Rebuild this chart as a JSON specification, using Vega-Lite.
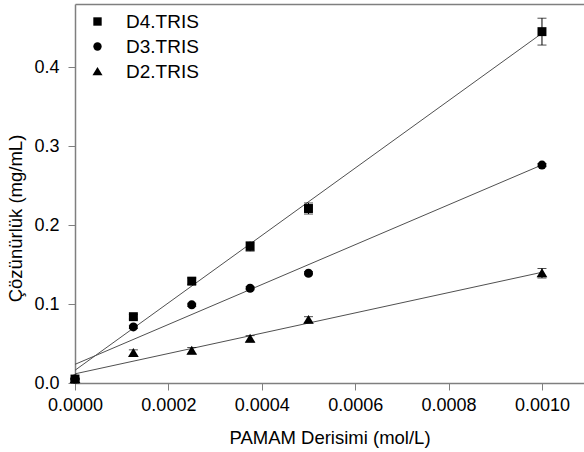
{
  "$schema": "https://vega.github.io/schema/vega-lite/v6.json",
  "autosize": "none",
  "padding": {"left": 75, "top": 4, "right": 0, "bottom": 69},
  "width": 509,
  "height": 379,
  "background": "white",
  "config": {
    "view": {"stroke": null},
    "font": "Liberation Sans",
    "axis": {
      "grid": false,
      "domainColor": "#7f7f7f",
      "domainWidth": 1.5,
      "tickColor": "#7f7f7f",
      "tickWidth": 1,
      "tickSize": 7,
      "labelFont": "Liberation Sans",
      "labelFontSize": 18,
      "labelColor": "black",
      "titleFont": "Liberation Sans",
      "titleFontSize": 18.5,
      "titleFontWeight": "normal",
      "titleColor": "black",
      "labelFlush": false,
      "labelOverlap": false
    }
  },
  "data": {
    "values": [
      {"series": "D4.TRIS", "x": 0, "y": 0.005, "err": 0.001},
      {"series": "D4.TRIS", "x": 0.000125, "y": 0.084, "err": 0.003},
      {"series": "D4.TRIS", "x": 0.00025, "y": 0.129, "err": 0.004},
      {"series": "D4.TRIS", "x": 0.000375, "y": 0.173, "err": 0.006},
      {"series": "D4.TRIS", "x": 0.0005, "y": 0.221, "err": 0.007},
      {"series": "D4.TRIS", "x": 0.001, "y": 0.445, "err": 0.017},
      {"series": "D3.TRIS", "x": 0, "y": 0.005, "err": 0.001},
      {"series": "D3.TRIS", "x": 0.000125, "y": 0.071, "err": 0.002},
      {"series": "D3.TRIS", "x": 0.00025, "y": 0.099, "err": 0.002},
      {"series": "D3.TRIS", "x": 0.000375, "y": 0.120, "err": 0.002},
      {"series": "D3.TRIS", "x": 0.0005, "y": 0.139, "err": 0.002},
      {"series": "D3.TRIS", "x": 0.001, "y": 0.276, "err": 0.002},
      {"series": "D2.TRIS", "x": 0, "y": 0.005, "err": 0.001},
      {"series": "D2.TRIS", "x": 0.000125, "y": 0.038, "err": 0.004},
      {"series": "D2.TRIS", "x": 0.00025, "y": 0.041, "err": 0.004},
      {"series": "D2.TRIS", "x": 0.000375, "y": 0.056, "err": 0.004},
      {"series": "D2.TRIS", "x": 0.0005, "y": 0.080, "err": 0.004},
      {"series": "D2.TRIS", "x": 0.001, "y": 0.139, "err": 0.006}
    ]
  },
  "resolve": {"axis": {"x": "independent"}},
  "layer": [
    {
      "transform": [
        {"regression": "y", "on": "x", "groupby": ["series"], "extent": [0, 0.001]}
      ],
      "mark": {"type": "line", "color": "#505050", "strokeWidth": 1},
      "encoding": {
        "x": {
          "field": "x", "type": "quantitative",
          "scale": {"domain": [0, 0.00109], "nice": false, "zero": false},
          "axis": {
            "orient": "bottom",
            "values": [0, 0.0002, 0.0004, 0.0006, 0.0008, 0.001],
            "format": ".4f",
            "labelPadding": 6,
            "title": "PAMAM Derisimi (mol/L)",
            "titleY": 45
          }
        },
        "y": {
          "field": "y", "type": "quantitative",
          "title": "Çözünürlük (mg/mL)",
          "scale": {"domain": [0, 0.48], "nice": false},
          "axis": {
            "values": [0, 0.1, 0.2, 0.3, 0.4],
            "format": ".1f",
            "labelPadding": 9,
            "titleX": -50,
            "titleY": 214
          }
        },
        "detail": {"field": "series"}
      }
    },
    {
      "mark": {"type": "errorbar", "ticks": {"color": "black", "size": 9}, "rule": {"color": "black", "strokeWidth": 1}},
      "encoding": {
        "x": {"field": "x", "type": "quantitative", "axis": null},
        "y": {"field": "y", "type": "quantitative", "title": "Çözünürlük (mg/mL)"},
        "yError": {"field": "err"},
        "detail": {"field": "series"}
      }
    },
    {
      "mark": {"type": "point", "filled": true, "color": "black", "opacity": 1, "size": 80},
      "encoding": {
        "x": {
          "field": "x", "type": "quantitative",
          "axis": {"orient": "top", "labels": false, "ticks": false, "title": null}
        },
        "y": {"field": "y", "type": "quantitative", "title": "Çözünürlük (mg/mL)"},
        "shape": {
          "field": "series", "type": "nominal",
          "scale": {"domain": ["D4.TRIS", "D3.TRIS", "D2.TRIS"], "range": ["square", "circle", "M0,-1.1L1.2,0.9L-1.2,0.9Z"]},
          "legend": {
            "orient": "none",
            "legendX": 13,
            "legendY": 8,
            "title": null,
            "padding": 0,
            "labelFontSize": 19,
            "labelFont": "Liberation Sans",
            "labelColor": "black",
            "labelOffset": 19,
            "rowPadding": 5,
            "symbolSize": 70,
            "symbolFillColor": "black",
            "symbolStrokeColor": "black"
          }
        }
      }
    }
  ]
}
